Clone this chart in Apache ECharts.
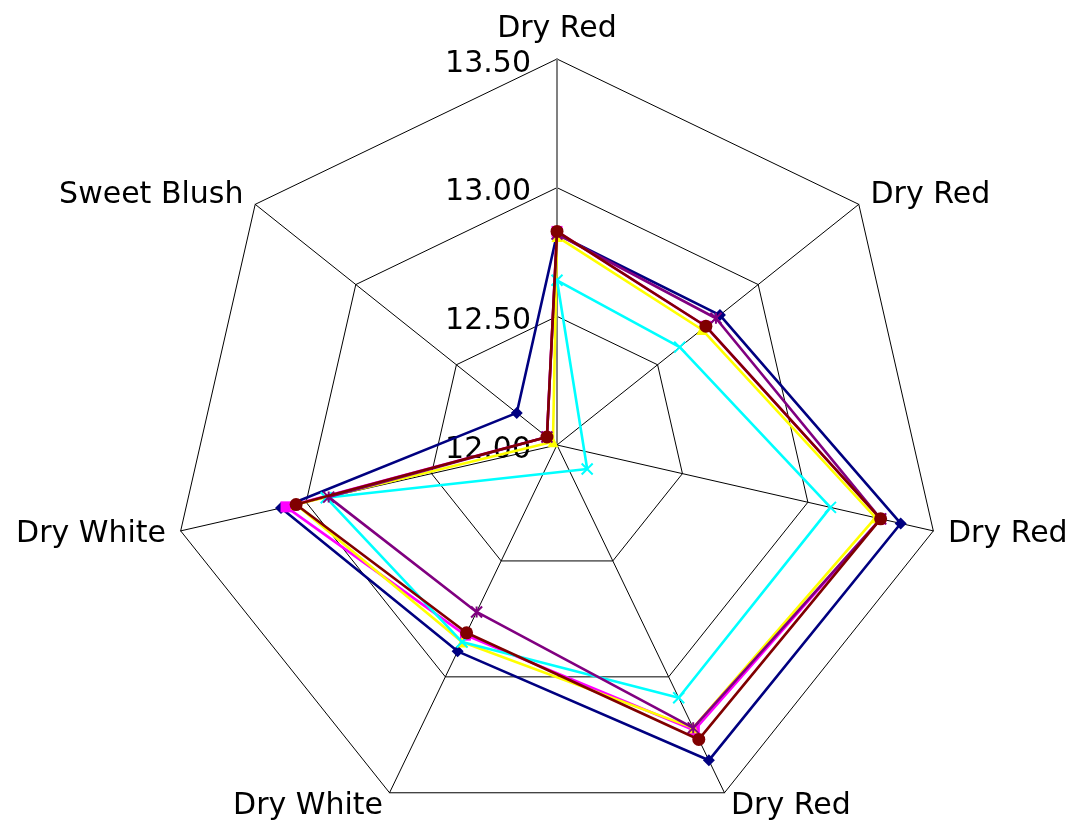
<!DOCTYPE html>
<html><head><meta charset="utf-8">
<script src="https://cdn.jsdelivr.net/npm/echarts@6/dist/echarts.min.js"></script>
<style>html,body{margin:0;padding:0;background:#fff}#c{width:1072px;height:820px}</style>
</head><body><div id="c"></div><script>
// indicators, counter-clockwise from the top (ECharts radar order)
const indicatorNames = ['Dry Red', 'Sweet Blush', 'Dry White', 'Dry White', 'Dry Red', 'Dry Red', 'Dry Red'];
const axisMin = 12.0;
const axisMax = 13.5;
const tickLabels = ['12.00', '12.50', '13.00', '13.50'];

const seriesNames = ['Series1', 'Series2', 'Series3', 'Series4', 'Series5', 'Series6'];
const navyValues    = [12.82, 12.20, 13.10, 12.89, 13.36, 13.37, 12.81];
const magentaValues = [12.83, 12.05, 13.08, 12.82, 13.23, 13.29, 12.74];
const yellowValues  = [12.81, 12.02, 13.04, 12.85, 13.22, 13.27, 12.72];
const cyanValues    = [12.64, 11.85, 12.92, 12.85, 13.09, 13.09, 12.61];
const purpleValues  = [12.82, 12.05, 12.91, 12.72, 13.22, 13.29, 12.79];
const maroonValues  = [12.83, 12.05, 13.04, 12.81, 13.27, 13.29, 12.74];

const FONT = 'DejaVu Sans';
const X_PATH = 'path://M0,0L10,10M10,0L0,10';
const STAR_PATH = 'path://M0,0L10,10M10,0L0,10M5,0L5,10';

const styles = [
  {values: navyValues, color: '#000080', symbol: 'diamond', size: 12, border: 0},
  {values: magentaValues, color: '#FF00FF', symbol: 'rect', size: 11, border: 0},
  {values: yellowValues, color: '#FFFF00', symbol: 'triangle', size: 11, border: 0},
  {values: cyanValues, color: '#00FFFF', symbol: X_PATH, size: 11, border: 2},
  {values: purpleValues, color: '#800080', symbol: STAR_PATH, size: 11, border: 2},
  {values: maroonValues, color: '#800000', symbol: 'circle', size: 13, border: 0}
];

const indicator = indicatorNames.map((n, i) => {
  const o = {name: n, min: axisMin, max: axisMax};
  if (i === 0) {
    o.axisLabel = {show: true};
    o.axisLine = {lineStyle: {color: '#808080', width: 2}};
  }
  return o;
});

const chart = echarts.init(document.getElementById('c'), null, {renderer: 'canvas'});
chart.setOption({
  backgroundColor: '#ffffff',
  animation: false,
  radar: {
    center: [557, 445],
    radius: 386,
    startAngle: 90,
    shape: 'polygon',
    splitNumber: tickLabels.length - 1,
    indicator: indicator,
    nameGap: 15,
    axisName: {color: '#000', fontSize: 30, fontFamily: FONT},
    axisLine: {show: true, lineStyle: {color: '#000', width: 1}},
    splitLine: {show: true, lineStyle: {color: '#000', width: 1}},
    splitArea: {show: false},
    axisTick: {show: false},
    axisLabel: {
      show: false, color: '#000', fontSize: 30, fontFamily: FONT, margin: 26,
      formatter: (v) => '{t|' + tickLabels[Math.round((v - axisMin) / ((axisMax - axisMin) / (tickLabels.length - 1)))] + '}',
      rich: {t: {color: '#000', fontSize: 30, fontFamily: FONT, padding: [10, 0, 0, 0]}}
    }
  },
  series: styles.map((s, i) => ({
    type: 'radar',
    name: seriesNames[i],
    symbol: s.symbol,
    symbolSize: s.size,
    z: 2 + i,
    lineStyle: {color: s.color, width: 2.6},
    itemStyle: {color: s.color, borderColor: s.color, borderWidth: s.border},
    data: [{
      value: s.values,
      name: seriesNames[i],
      lineStyle: {color: s.color, width: 2.6}
    }]
  }))
});
</script></body></html>
